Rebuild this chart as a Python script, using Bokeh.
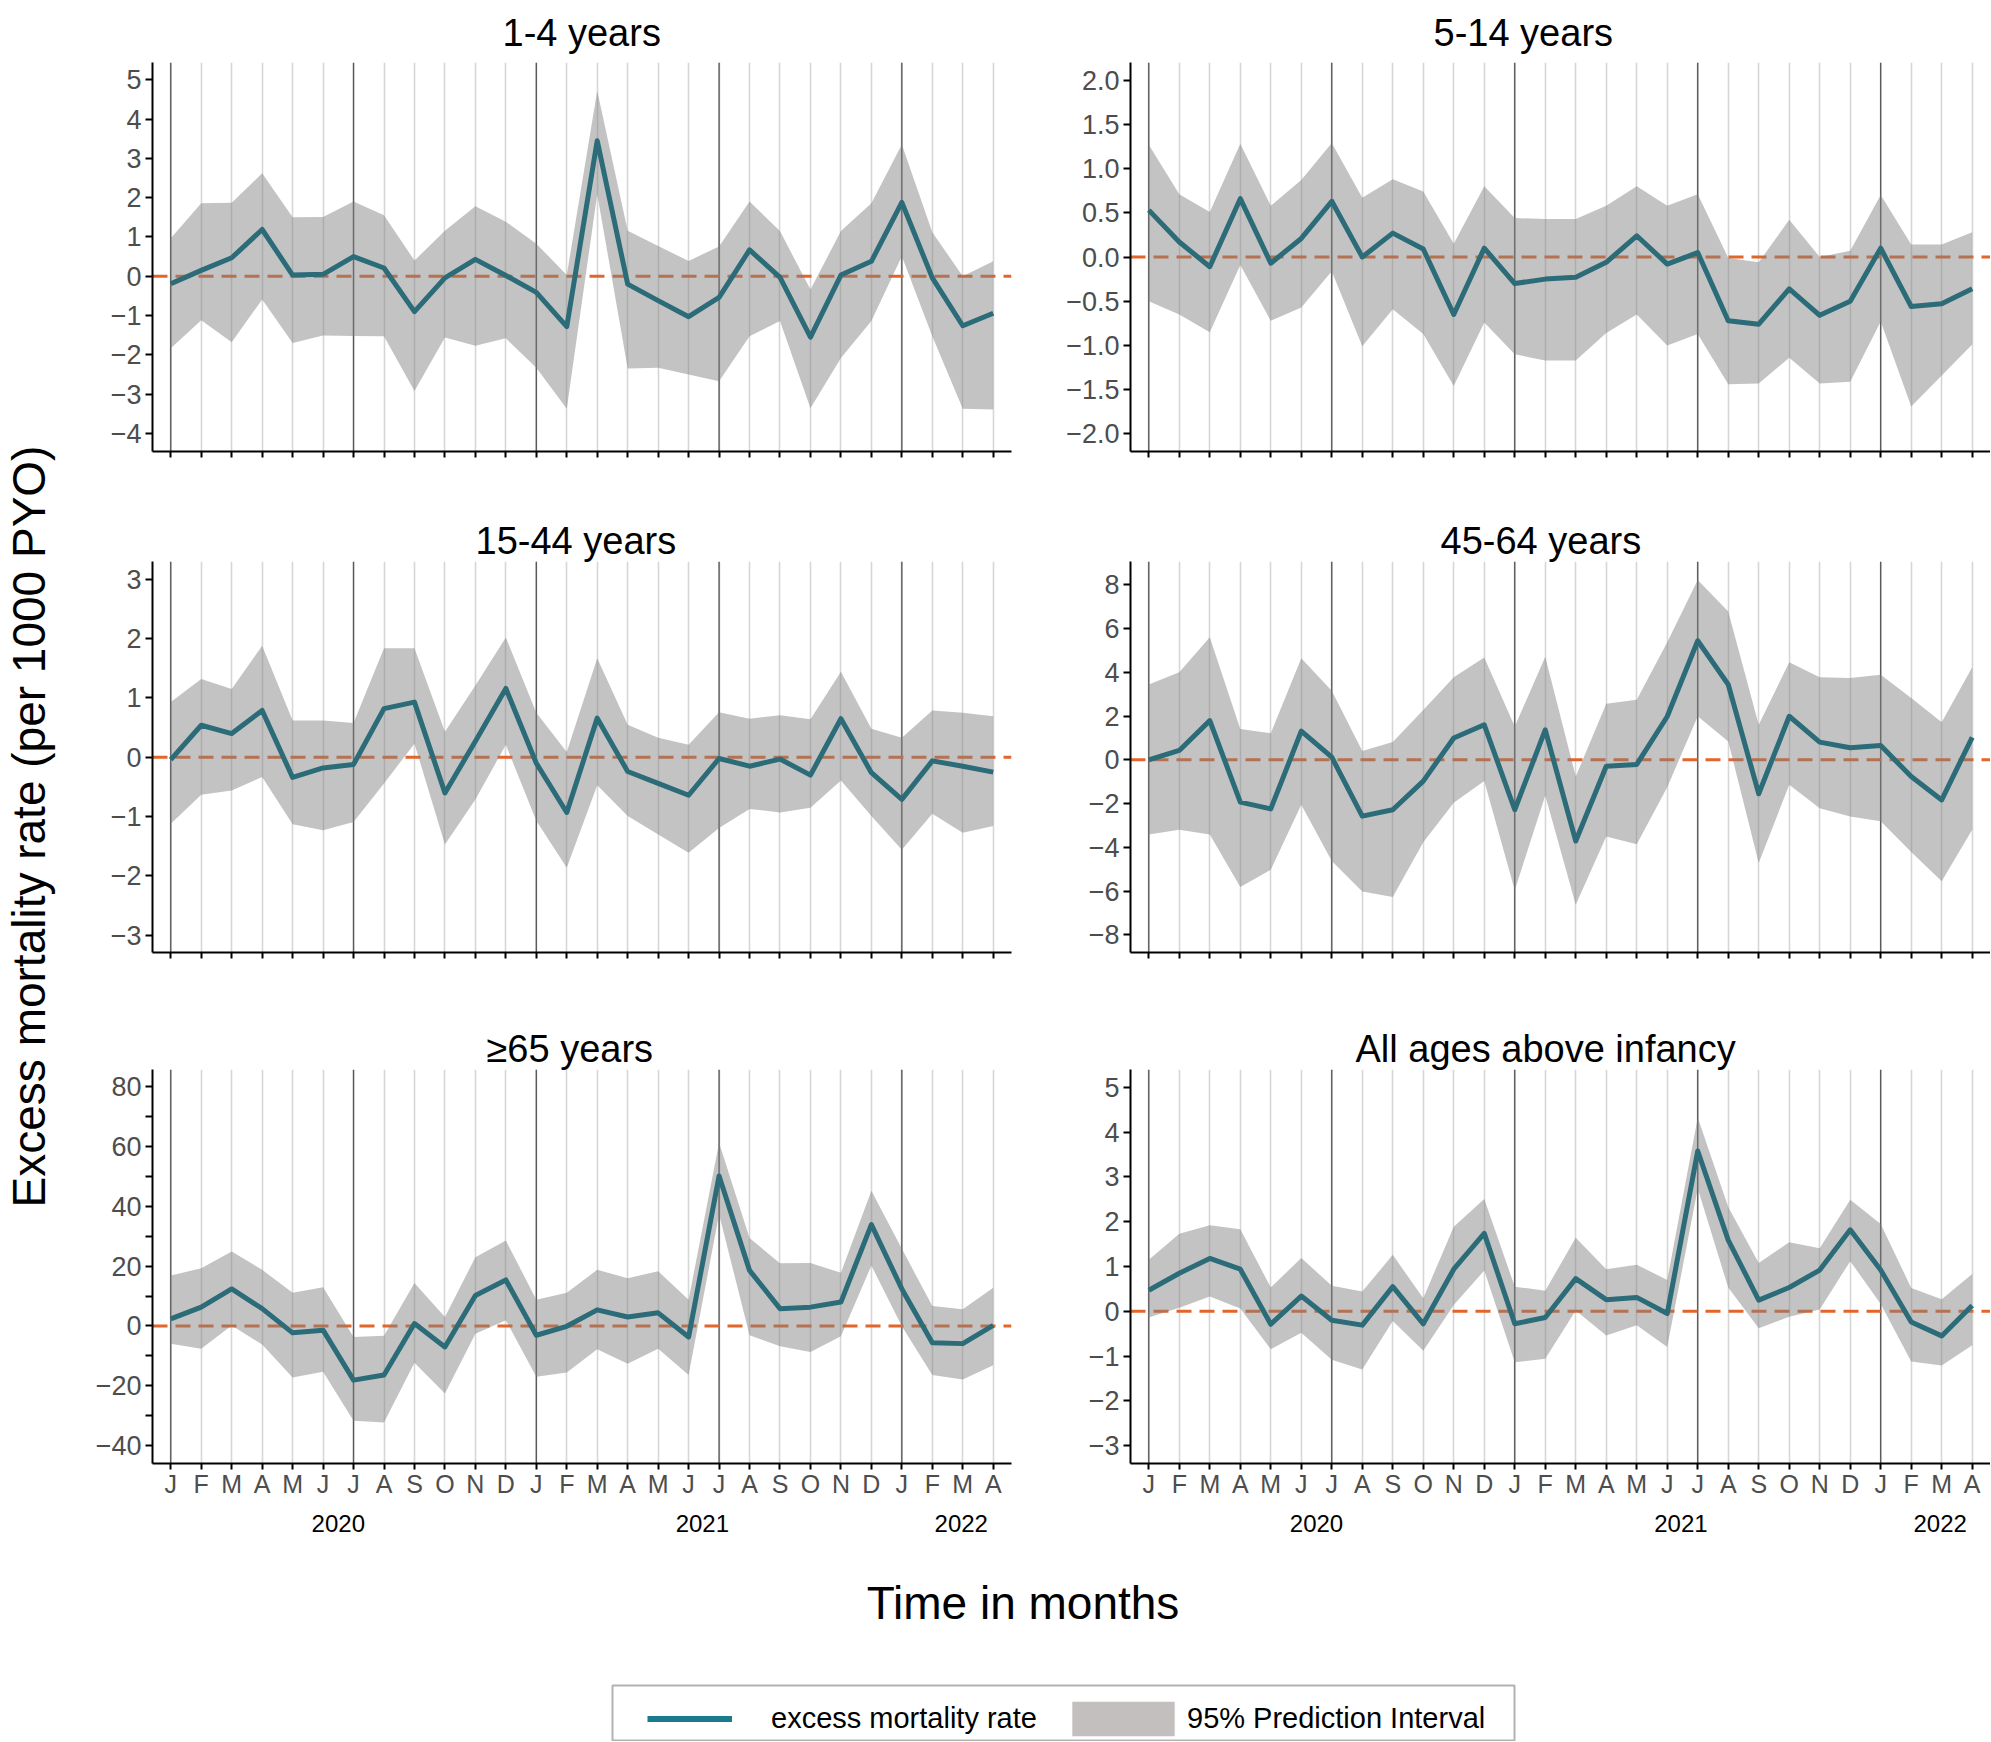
from bokeh.plotting import figure
from bokeh.models import (FixedTicker, Span, Range1d, Title, Legend, LegendItem, LinearAxis,
                          BoxAnnotation)
from bokeh.layouts import row, column
from bokeh.embed import file_html
from bokeh.resources import INLINE

FONT = "Liberation Sans"
NAN = float("nan")

month_labels = ["J", "F", "M", "A", "M", "J", "J", "A", "S", "O", "N", "D",
                "J", "F", "M", "A", "M", "J", "J", "A", "S", "O", "N", "D",
                "J", "F", "M", "A"]
months = list(range(len(month_labels)))
year_labels = ["2020", "2021", "2022"]
year_centers = [5.5, 17.45, 25.95]
half_year_lines = [0, 6, 12, 18, 24]

# ---- 1-4 years
title1 = "1-4 years"
rate1 = [-0.19, 0.15, 0.47, 1.19, 0.03, 0.05, 0.50, 0.21, -0.90, -0.04, 0.43, 0.02, -0.41, -1.28,
         3.45, -0.20, -0.62, -1.03, -0.54, 0.67, -0.03, -1.55, 0.03, 0.38, 1.88, -0.04, -1.26, -0.94]
hi1 = [0.97, 1.86, 1.87, 2.62, 1.50, 1.51, 1.90, 1.55, 0.40, 1.16, 1.78, 1.39, 0.83, 0.03,
       4.72, 1.16, 0.77, 0.39, 0.76, 1.90, 1.15, -0.34, 1.15, 1.86, 3.35, 1.12, 0.00, 0.38]
lo1 = [-1.83, -1.12, -1.68, -0.59, -1.70, -1.51, -1.52, -1.53, -2.92, -1.56, -1.77, -1.58, -2.33, -3.37,
       2.09, -2.35, -2.33, -2.50, -2.67, -1.53, -1.14, -3.36, -2.08, -1.14, 0.51, -1.53, -3.37, -3.39]
ylim1 = (-4.46, 5.44)
yticks1 = [-4, -3, -2, -1, 0, 1, 2, 3, 4, 5]
ylabels1 = ["\u22124", "\u22123", "\u22122", "\u22121", "0", "1", "2", "3", "4", "5"]

# ---- 5-14 years
title2 = "5-14 years"
rate2 = [0.53, 0.17, -0.11, 0.66, -0.07, 0.21, 0.63, 0.00, 0.27, 0.09, -0.65, 0.10, -0.30, -0.25,
         -0.23, -0.06, 0.24, -0.08, 0.05, -0.72, -0.76, -0.36, -0.66, -0.50, 0.10, -0.56, -0.53, -0.36]
hi2 = [1.27, 0.71, 0.51, 1.28, 0.58, 0.87, 1.29, 0.67, 0.88, 0.74, 0.15, 0.80, 0.44, 0.43,
       0.43, 0.58, 0.80, 0.58, 0.71, -0.01, -0.06, 0.42, 0.00, 0.07, 0.70, 0.14, 0.14, 0.28]
lo2 = [-0.50, -0.65, -0.85, -0.09, -0.72, -0.57, -0.16, -1.01, -0.59, -0.87, -1.46, -0.74, -1.10, -1.17,
       -1.17, -0.86, -0.65, -1.00, -0.87, -1.44, -1.43, -1.14, -1.43, -1.41, -0.73, -1.69, -1.34, -0.99]
ylim2 = (-2.2, 2.2)
yticks2 = [-2.0, -1.5, -1.0, -0.5, 0.0, 0.5, 1.0, 1.5, 2.0]
ylabels2 = ["\u22122.0", "\u22121.5", "\u22121.0", "\u22120.5", "0.0", "0.5", "1.0", "1.5", "2.0"]

# ---- 15-44 years
title3 = "15-44 years"
rate3 = [-0.04, 0.54, 0.40, 0.79, -0.34, -0.18, -0.12, 0.82, 0.93, -0.60, 0.27, 1.16, -0.10, -0.93,
         0.66, -0.24, -0.44, -0.64, -0.02, -0.15, -0.03, -0.30, 0.65, -0.26, -0.71, -0.06, -0.15, -0.25]
hi3 = [0.93, 1.32, 1.15, 1.88, 0.62, 0.62, 0.58, 1.84, 1.84, 0.43, 1.21, 2.02, 0.75, 0.09,
       1.67, 0.55, 0.33, 0.21, 0.76, 0.65, 0.71, 0.64, 1.44, 0.48, 0.33, 0.79, 0.75, 0.69]
lo3 = [-1.12, -0.63, -0.56, -0.33, -1.13, -1.23, -1.09, -0.44, 0.23, -1.47, -0.71, 0.21, -1.07, -1.86,
       -0.47, -0.99, -1.30, -1.61, -1.19, -0.87, -0.93, -0.85, -0.39, -0.99, -1.56, -0.95, -1.27, -1.16]
ylim3 = (-3.29, 3.3)
yticks3 = [-3, -2, -1, 0, 1, 2, 3]
ylabels3 = ["\u22123", "\u22122", "\u22121", "0", "1", "2", "3"]

# ---- 45-64 years
title4 = "45-64 years"
rate4 = [0.00, 0.43, 1.79, -1.93, -2.24, 1.31, 0.12, -2.57, -2.28, -0.97, 1.00, 1.60, -2.28, 1.37,
         -3.71, -0.29, -0.21, 1.98, 5.44, 3.44, -1.55, 1.99, 0.81, 0.55, 0.65, -0.76, -1.83, 1.03]
hi4 = [3.44, 4.00, 5.60, 1.41, 1.22, 4.64, 3.16, 0.40, 0.81, 2.28, 3.77, 4.68, 1.52, 4.71,
       -0.76, 2.56, 2.74, 5.37, 8.21, 6.78, 1.60, 4.46, 3.77, 3.74, 3.89, 2.83, 1.72, 4.23]
lo4 = [-3.41, -3.19, -3.41, -5.81, -5.02, -2.05, -4.62, -6.01, -6.27, -3.76, -1.96, -0.97, -5.96, -1.63,
       -6.62, -3.50, -3.86, -1.25, 1.99, 0.84, -4.71, -1.14, -2.21, -2.59, -2.81, -4.21, -5.54, -3.19]
ylim4 = (-8.8, 9.06)
yticks4 = [-8, -6, -4, -2, 0, 2, 4, 6, 8]
ylabels4 = ["\u22128", "\u22126", "\u22124", "\u22122", "0", "2", "4", "6", "8"]

# ---- >=65 years
title5 = "\u226565 years"
rate5 = [2.4, 6.3, 12.4, 5.8, -2.3, -1.4, -18.1, -16.4, 0.8, -7.0, 10.2, 15.4, -3.1, -0.1,
         5.4, 3.0, 4.4, -3.7, 50.2, 18.6, 5.8, 6.3, 8.0, 33.9, 12.4, -5.6, -5.9, 0.2]
hi5 = [16.9, 19.3, 24.9, 18.8, 11.1, 13.0, -3.7, -3.3, 14.4, 3.0, 23.0, 28.6, 8.8, 11.1,
       18.8, 16.0, 18.3, 8.8, 61.3, 29.4, 21.0, 21.1, 17.8, 45.2, 25.8, 6.7, 5.6, 12.8]
lo5 = [-5.9, -7.6, 0.2, -6.2, -17.2, -15.3, -31.7, -32.3, -12.3, -22.6, -2.6, 1.9, -17.0, -15.6,
       -7.8, -12.6, -7.6, -16.4, 37.4, -3.1, -6.8, -8.7, -3.4, 20.2, -0.1, -16.4, -17.9, -13.1]
ylim5 = (-46.0, 85.8)
yticks5 = [-40, -20, 0, 20, 40, 60, 80]
ylabels5 = ["\u221240", "\u221220", "0", "20", "40", "60", "80"]
yminor5 = [-30, -10, 10, 30, 50, 70]

# ---- All ages above infancy
title6 = "All ages above infancy"
rate6 = [0.47, 0.85, 1.18, 0.94, -0.29, 0.34, -0.20, -0.31, 0.55, -0.28, 0.94, 1.74, -0.28, -0.14,
         0.73, 0.26, 0.31, -0.05, 3.58, 1.59, 0.25, 0.53, 0.92, 1.82, 0.92, -0.24, -0.55, 0.13]
hi6 = [1.15, 1.73, 1.92, 1.83, 0.53, 1.19, 0.57, 0.44, 1.26, 0.29, 1.89, 2.51, 0.55, 0.46,
       1.64, 0.94, 1.04, 0.70, 4.33, 2.33, 1.08, 1.54, 1.41, 2.49, 1.95, 0.52, 0.27, 0.83]
lo6 = [-0.14, 0.08, 0.33, 0.06, -0.85, -0.48, -1.08, -1.30, -0.22, -0.88, 0.14, 0.91, -1.14, -1.06,
       0.02, -0.54, -0.31, -0.80, 2.74, 0.53, -0.38, -0.12, 0.04, 1.12, 0.16, -1.12, -1.21, -0.76]
ylim6 = (-3.4, 5.4)
yticks6 = [-3, -2, -1, 0, 1, 2, 3, 4, 5]
ylabels6 = ["\u22123", "\u22122", "\u22121", "0", "1", "2", "3", "4", "5"]

y_title = "Excess mortality rate (per 1000 PYO)"
x_title = "Time in months"
legend_labels = ["excess mortality rate", "95% Prediction Interval"]

LINE_COLOR = "#2C6B78"
TICK_COLOR = "#4D4D4D"


def panel(title, rate, lo, hi, ylim, yticks, ylabels, yminor, width, height,
          borders, title_standoff, title_offset, bottom):
    bl, br, bt, bb = borders
    p = figure(width=width, height=height, x_range=Range1d(-0.6, 27.6),
               y_range=Range1d(*ylim), output_backend="svg", toolbar_location=None,
               min_border_left=bl, min_border_right=br, min_border_top=bt,
               min_border_bottom=bb, title=title)
    p.outline_line_color = None
    p.background_fill_color = "white"
    p.border_fill_color = "white"
    p.ygrid.visible = False
    p.xgrid.ticker = FixedTicker(ticks=months)
    p.xgrid.grid_line_color = "#D6D6D6"
    p.xgrid.grid_line_width = 1.6
    for m in half_year_lines:
        p.add_layout(Span(location=m, dimension="height", line_color="#5A5A5A",
                          line_width=1.4, level="underlay"))
    p.add_layout(Span(location=0, dimension="width", line_color="#E2662B",
                      line_width=3, line_dash="15 8", level="underlay"))
    p.varea(x=months, y1=lo, y2=hi, fill_color="#808080", fill_alpha=0.47)
    p.line(months, rate, line_color=LINE_COLOR, line_width=5, line_join="round")

    p.title.align = "left"
    p.title.text_font = FONT
    p.title.text_font_size = "38px"
    p.title.text_font_style = "normal"
    p.title.text_color = "black"
    p.title.standoff = title_standoff
    p.title.offset = title_offset

    ya = p.yaxis[0]
    ya.ticker = FixedTicker(ticks=yticks, minor_ticks=yminor)
    ya.major_label_overrides = {t: l for t, l in zip(yticks, ylabels)}
    ya.axis_line_width = 2
    ya.axis_line_color = "black"
    ya.major_tick_line_color = "black"
    ya.major_tick_line_width = 2
    ya.major_tick_out = 7
    ya.major_tick_in = 0
    ya.minor_tick_line_color = "black"
    ya.minor_tick_line_width = 2
    ya.minor_tick_out = 7
    ya.minor_tick_in = 0
    ya.major_label_text_font = FONT
    ya.major_label_text_font_size = "27px"
    ya.major_label_text_color = TICK_COLOR
    ya.major_label_standoff = 4

    xa = p.xaxis[0]
    xa.ticker = FixedTicker(ticks=months)
    xa.major_label_overrides = {m: (month_labels[m] if bottom else "") for m in months}
    xa.axis_line_width = 2
    xa.axis_line_color = "black"
    xa.major_tick_line_color = "black"
    xa.major_tick_line_width = 2
    xa.major_tick_out = 6
    xa.major_tick_in = 0
    xa.minor_tick_line_color = None
    xa.major_label_text_font = FONT
    xa.major_label_text_font_size = "25px"
    xa.major_label_text_color = TICK_COLOR
    xa.major_label_standoff = 0

    if bottom:
        yr = LinearAxis(ticker=FixedTicker(ticks=year_centers),
                        major_label_overrides=dict(zip(year_centers, year_labels)),
                        axis_line_color=None, major_tick_line_color=None,
                        minor_tick_line_color=None,
                        major_label_text_font=FONT, major_label_text_font_size="24px",
                        major_label_text_color="black", major_label_standoff=8)
        p.add_layout(yr, "below")
    return p


W1, W2 = 992, 930
B1 = (84, 49)
B2 = (70, 0)

p1 = panel(title1, rate1, lo1, hi1, ylim1, yticks1, ylabels1, [], W1, 517, (*B1, 61, 66), 18, 350, False)
p2 = panel(title2, rate2, lo2, hi2, ylim2, yticks2, ylabels2, [], W2, 517, (*B2, 61, 66), 18, 303, False)
p3 = panel(title3, rate3, lo3, hi3, ylim3, yticks3, ylabels3, [], W1, 508, (*B1, 43, 73), 0, 323, False)
p4 = panel(title4, rate4, lo4, hi4, ylim4, yticks4, ylabels4, [], W2, 508, (*B2, 43, 73), 0, 310, False)
p5 = panel(title5, rate5, lo5, hi5, ylim5, yticks5, ylabels5, yminor5, W1, 535, (*B1, 43, 97), 0, 334, True)
p6 = panel(title6, rate6, lo6, hi6, ylim6, yticks6, ylabels6, [], W2, 535, (*B2, 43, 97), 0, 225, True)

# left shared y title
yf = figure(width=68, height=1560, x_range=Range1d(0, 1), y_range=Range1d(0, 1),
            output_backend="svg", toolbar_location=None, x_axis_type=None, y_axis_type=None,
            min_border_left=0, min_border_right=0, min_border_top=92, min_border_bottom=0)
yf.outline_line_color = None
yf.xgrid.visible = False
yf.ygrid.visible = False
yf.add_layout(Title(text=y_title, align="center", text_font=FONT, text_font_size="46px",
                    text_font_style="normal", text_color="black", standoff=0), "left")

# bottom: x title and legend
bf = figure(width=1990, height=181, x_range=Range1d(0, 1), y_range=Range1d(0, 1),
            output_backend="svg", toolbar_location=None, x_axis_type=None, y_axis_type=None,
            min_border_left=55, min_border_right=0, min_border_top=68, min_border_bottom=0)
bf.outline_line_color = None
bf.xgrid.visible = False
bf.ygrid.visible = False
bf.add_layout(Title(text=x_title, align="center", text_font=FONT, text_font_size="46px",
                    text_font_style="normal", text_color="black", standoff=0), "above")
lg_line = bf.line(x=[NAN], y=[NAN], line_color="#1C7A8F", line_width=6)
lg_area = bf.varea(x=[NAN], y1=[NAN], y2=[NAN], fill_color="#C3BFBF")

bf.add_layout(BoxAnnotation(left=557, right=1459, bottom=1, top=56,
                            left_units="screen", right_units="screen",
                            top_units="screen", bottom_units="screen",
                            fill_color=None, line_color="black", line_width=2))
common = dict(orientation="horizontal", border_line_color=None, background_fill_alpha=0,
              padding=6, glyph_height=43, label_text_font=FONT, label_text_font_size="29px",
              label_text_color="black", margin=0)
legA = Legend(items=[LegendItem(label=legend_labels[0], renderers=[lg_line])],
              location=(592, 1), glyph_width=85, label_standoff=39, **common)
legB = Legend(items=[LegendItem(label=legend_labels[1], renderers=[lg_area])],
              location=(1004, 1), glyph_width=128, label_standoff=0, **common)
bf.add_layout(legA, "center")
bf.add_layout(legB, "center")

layout = column(row(yf, column(row(p1, p2), row(p3, p4), row(p5, p6))), bf)

open("out.html", "w").write(file_html(layout, INLINE))
